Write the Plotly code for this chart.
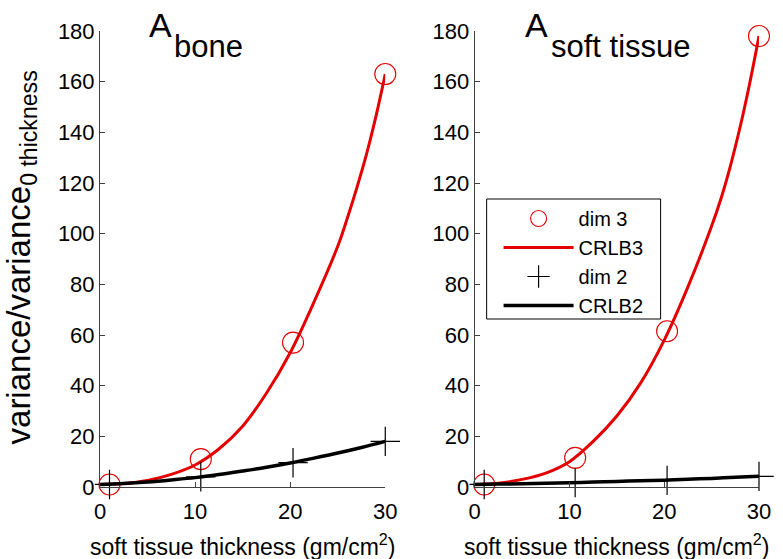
import plotly.graph_objects as go

# ---------------- data ----------------
# curve sample positions (soft tissue thickness, gm/cm^2)
crlb_x3 = [0, 2.5, 5, 7.5, 10, 12.5, 15, 17.5, 20, 22.5, 25, 26, 27, 28, 29, 30]
bone_crlb3 = [1, 1.4, 2.6, 5, 8.7, 15, 24, 37, 53, 73, 95, 106, 118, 131, 146, 163]
soft_crlb3 = [1, 1.5, 3, 5.5, 10, 18, 28, 41, 58, 79, 103, 114, 127, 142, 159, 178]

crlb_x2 = [0, 2.5, 5, 7.5, 10, 12.5, 15, 17.5, 20, 22.5, 25, 27.5, 30]
bone_crlb2 = [1, 1.4, 2, 2.8, 3.7, 4.9, 6.3, 7.8, 9.5, 11.4, 13.4, 15.6, 18]
soft_crlb2 = [1, 1.15, 1.3, 1.5, 1.7, 1.95, 2.2, 2.45, 2.7, 3.05, 3.4, 3.8, 4.2]

# simulated / measured points
dim_x = [1, 10.6, 20.3, 30]
bone_dim3 = [1, 11, 57, 163]
bone_dim2 = [1, 4, 9.6, 18]
soft_dim3 = [1, 11.5, 61.5, 178]
soft_dim2 = [1, 1.8, 2.6, 4.2]

x_ticks = [0, 10, 20, 30]
y_ticks = [0, 20, 40, 60, 80, 100, 120, 140, 160, 180]

RED = "rgb(228,0,0)"
BLACK = "black"
FONT = "Liberation Sans, Arial, Helvetica, sans-serif"

W, H = 783, 559
L, R, T, B = 100, 20, 31, 72
PW = W - L - R
PH = H - T - B


def px(x):  # window pixel -> paper
    return (x - L) / PW


def py(y):
    return (H - B - y) / PH


fig = go.Figure()

panels = [
    ("x", "y", bone_crlb3, bone_crlb2, bone_dim3, bone_dim2, False),
    ("x2", "y2", soft_crlb3, soft_crlb2, soft_dim3, soft_dim2, True),
]
for xa, ya, c3, c2, d3, d2, show in panels:
    fig.add_trace(go.Scatter(x=dim_x, y=d3, mode="markers", name="dim 3",
                             marker=dict(symbol="circle-open", size=21, color=RED,
                                         line=dict(width=1.1, color=RED)),
                             xaxis=xa, yaxis=ya, showlegend=show, cliponaxis=False))
    fig.add_trace(go.Scatter(x=crlb_x3, y=c3, mode="lines", name="CRLB3",
                             line=dict(color=RED, width=3, shape="spline"),
                             xaxis=xa, yaxis=ya, showlegend=show, cliponaxis=False))
    fig.add_trace(go.Scatter(x=dim_x, y=d2, mode="markers", name="dim 2",
                             marker=dict(symbol="cross-thin-open", size=21, color=BLACK,
                                         line=dict(width=1.2, color=BLACK)),
                             xaxis=xa, yaxis=ya, showlegend=show, cliponaxis=False))
    fig.add_trace(go.Scatter(x=crlb_x2, y=c2, mode="lines", name="CRLB2",
                             line=dict(color=BLACK, width=3.5, shape="spline"),
                             xaxis=xa, yaxis=ya, showlegend=show, cliponaxis=False))

axis_common = dict(showgrid=False, zeroline=False, showline=True, linecolor="#404040",
                   linewidth=1, ticks="inside", ticklen=5, tickcolor="#404040",
                   tickfont=dict(family=FONT, size=22, color="black"), mirror=False)

d_left = [0, px(387)]
d_right = [px(477), 1]

fig.update_layout(
    width=W, height=H,
    margin=dict(l=L, r=R, t=T, b=B),
    paper_bgcolor="white", plot_bgcolor="white",
    xaxis=dict(domain=d_left, range=[0, 30], tickvals=x_ticks, anchor="y",
               ticklabelstandoff=5, **axis_common),
    yaxis=dict(domain=[0, 1], range=[0, 180], tickvals=y_ticks, anchor="x", **axis_common),
    xaxis2=dict(domain=d_right, range=[0, 30], tickvals=x_ticks, anchor="y2",
                ticklabelstandoff=5, **axis_common),
    yaxis2=dict(domain=[0, 1], range=[0, 180], tickvals=y_ticks, anchor="x2", **axis_common),
    legend=dict(x=px(501), y=py(199), xanchor="left", yanchor="top",
                bgcolor="rgba(0,0,0,0)", borderwidth=0,
                font=dict(family=FONT, size=20, color="black"),
                itemwidth=70, tracegroupgap=0),
    showlegend=True,
    shapes=[dict(type="rect", xref="paper", yref="paper",
                 x0=px(489), x1=px(664), y0=py(319), y1=py(199),
                 line=dict(color="black", width=1), fillcolor="white", layer="below")],
)

ann = []
def text(t, x, y, size, xanchor="center", yanchor="middle", angle=0):
    ann.append(dict(text=t, x=px(x), y=py(y), xref="paper", yref="paper",
                    xanchor=xanchor, yanchor=yanchor, showarrow=False, textangle=angle,
                    font=dict(family=FONT, size=size, color="black")))

# panel titles
text("A", 147, 25, 34, xanchor="left")
text("bone", 172, 46, 31, xanchor="left")
text("A", 526, 25, 34, xanchor="left")
text("soft tissue", 552, 46, 31, xanchor="left")
# axis titles
text("soft tissue thickness (gm/cm<sup>2</sup>)", 243, 545, 23)
text("soft tissue thickness (gm/cm<sup>2</sup>)", 620, 545, 23)
text("variance/variance<sub>0 thickness</sub>", 21, 257, 33, angle=-90)

fig.update_layout(annotations=ann)

fig.write_html("out.html", config={"displayModeBar": False},
               post_script="document.body.style.margin='0px';document.body.style.overflow='hidden';")
